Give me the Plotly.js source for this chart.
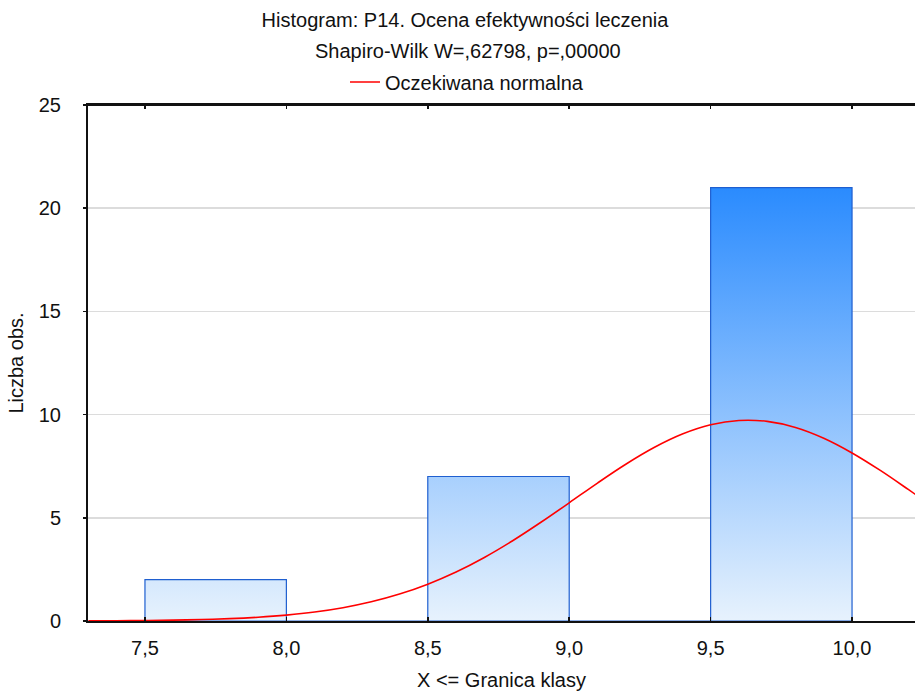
<!DOCTYPE html>
<html>
<head>
<meta charset="utf-8">
<script src="https://cdn.plot.ly/plotly-3.0.1.min.js"></script>
<style>html,body{margin:0;padding:0;background:#fff;}#chart{width:915px;height:691px;}</style>
</head>
<body>
<div id="chart"></div>
<script>
// Histogram bins (class centres, upper limits 8.0 .. 10.0) and counts
var binCenters = [7.75, 8.25, 8.75, 9.25, 9.75];
var binCounts = [2, 0, 7, 0, 21];
var binWidth = 0.5;

// Expected normal curve
var curveX = [7.3, 7.4, 7.5, 7.6, 7.7, 7.8, 7.9, 8.0, 8.1, 8.2, 8.3, 8.4, 8.5, 8.6, 8.7, 8.8, 8.9, 9.0,
              9.1, 9.2, 9.3, 9.4, 9.5, 9.6, 9.7, 9.8, 9.9, 10.0, 10.1, 10.2, 10.3];
var curveY = [0.007, 0.013, 0.024, 0.041, 0.070, 0.115, 0.184, 0.287, 0.435, 0.644, 0.929, 1.304, 1.783, 2.373,
              3.078, 3.888, 4.783, 5.727, 6.683, 7.593, 8.402, 9.055, 9.505, 9.716, 9.672, 9.378, 8.855, 8.143,
              7.295, 6.362, 5.404];

var xTicks = [7.5, 8.0, 8.5, 9.0, 9.5, 10.0];
var yTicks = [0, 5, 10, 15, 20, 25];

var titleText = 'Histogram: P14. Ocena efektywności leczenia';
var subtitleText = 'Shapiro-Wilk W=,62798, p=,00000';
var legendName = 'Oczekiwana normalna';
var xTitle = 'X <= Granica klasy';
var yTitle = 'Liczba obs.';

var FONT = 'Arial, "Liberation Sans", sans-serif';
var FS = 20;

var traces = [
  {
    type: 'bar', x: binCenters, y: binCounts, width: binWidth,
    marker: {color: '#8fc2fc', line: {color: '#1f5fd0', width: 1.2}},
    showlegend: false, hoverinfo: 'x+y'
  },
  {
    type: 'scatter', mode: 'lines', x: curveX, y: curveY, name: legendName,
    line: {color: '#ff0000', width: 1.6, shape: 'spline'}
  }
];

var layout = {
  width: 915, height: 691,
  margin: {l: 88, r: 0, t: 105, b: 70},
  paper_bgcolor: '#ffffff', plot_bgcolor: '#ffffff',
  separators: ', ',
  font: {family: FONT, size: FS, color: '#111111'},
  title: {text: titleText, font: {family: FONT, size: FS, color: '#111111'},
          x: 465/915, xanchor: 'center', xref: 'container', y: 1 - 20/691, yanchor: 'middle', yref: 'container'},
  annotations: [{text: subtitleText, xref: 'paper', yref: 'paper', x: (468-88)/827, y: (621-51)/516,
                 xanchor: 'center', yanchor: 'middle', showarrow: false,
                 font: {family: FONT, size: FS, color: '#111111'}}],
  showlegend: true,
  legend: {orientation: 'h', xref: 'container', yref: 'container', x: 467/915, xanchor: 'center',
           y: 1 - 82/691, yanchor: 'middle', font: {family: FONT, size: FS, color: '#111111'},
           bgcolor: 'rgba(0,0,0,0)', itemwidth: 30},
  bargap: 0,
  xaxis: {
    range: [7.2986, 10.2226], tickvals: xTicks, tickformat: '.1f',
    showline: true, linecolor: '#111111', linewidth: 2, mirror: 'ticks',
    ticks: 'inside', ticklen: 4, tickcolor: '#111111', tickwidth: 1.5,
    showgrid: false, zeroline: false, ticklabelstandoff: 8,
    tickfont: {family: FONT, size: FS, color: '#111111'},
    title: {text: xTitle, font: {family: FONT, size: FS, color: '#111111'}, standoff: 17}
  },
  yaxis: {
    range: [0, 25], tickvals: yTicks,
    showline: true, linecolor: '#111111', linewidth: 2,
    ticks: 'outside', ticklen: 3, tickcolor: '#111111', tickwidth: 1.5,
    showgrid: true, gridcolor: '#dcdcdc', gridwidth: 1.5, zeroline: false,
    ticklabelstandoff: 18,
    tickfont: {family: FONT, size: FS, color: '#111111'},
    title: {text: yTitle, font: {family: FONT, size: FS, color: '#111111'}, standoff: 10}
  },
  shapes: [{type: 'line', xref: 'paper', yref: 'y', x0: 0, x1: 1, y0: 25, y1: 25,
            line: {color: '#111111', width: 2}}]
};

function applyGradient(gd) {
  var svg = gd.querySelector('svg.main-svg');
  if (!svg) return;
  var defs = svg.querySelector('defs');
  if (!defs) { defs = document.createElementNS('http://www.w3.org/2000/svg', 'defs'); svg.insertBefore(defs, svg.firstChild); }
  var ya = gd._fullLayout.yaxis;
  var yBottom = ya.l2p(0), yTop = ya.l2p(Math.max.apply(null, binCounts));
  var g = defs.querySelector('#barGrad');
  if (!g) {
    g = document.createElementNS('http://www.w3.org/2000/svg', 'linearGradient');
    g.setAttribute('id', 'barGrad');
    g.setAttribute('gradientUnits', 'userSpaceOnUse');
    var s1 = document.createElementNS('http://www.w3.org/2000/svg', 'stop');
    s1.setAttribute('offset', '0'); s1.setAttribute('stop-color', '#e7f2fd');
    var s2 = document.createElementNS('http://www.w3.org/2000/svg', 'stop');
    s2.setAttribute('offset', '1'); s2.setAttribute('stop-color', '#2a8bfe');
    g.appendChild(s1); g.appendChild(s2);
    defs.appendChild(g);
  }
  g.setAttribute('x1', '0'); g.setAttribute('x2', '0');
  g.setAttribute('y1', String(yBottom)); g.setAttribute('y2', String(yTop));
  gd.querySelectorAll('.barlayer .point path').forEach(function (p) {
    p.style.fill = 'url(#barGrad)';
  });
}

var gd = document.getElementById('chart');
Plotly.newPlot(gd, traces, layout, {staticPlot: true}).then(function () {
  applyGradient(gd);
  gd.on('plotly_afterplot', function () { applyGradient(gd); });
});
</script>
</body>
</html>
